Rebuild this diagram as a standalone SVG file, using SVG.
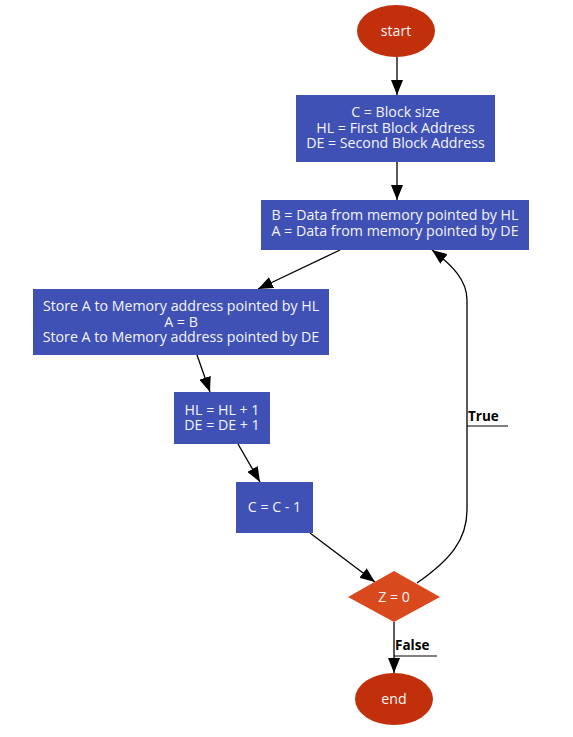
<svg xmlns="http://www.w3.org/2000/svg" width="573" height="737" viewBox="0 0 573 737">
<style>
.box{fill:#3f51b5;}
.term{fill:#c1300a;}
.dec{fill:#d84a1e;}
.t{font-family:"Open Sans",sans-serif;font-size:14.2px;fill:#f4f4f8;text-anchor:middle;}
.e{fill:none;stroke:#000;stroke-width:1.3;}
.lbl{font-family:"Open Sans",sans-serif;font-size:13.5px;font-weight:bold;fill:#000;}
.ul{stroke:#000;stroke-width:1;}
</style>
<defs>
<marker id="ah" viewBox="0 0 15 12" refX="15" refY="6" markerWidth="15" markerHeight="12" markerUnits="userSpaceOnUse" orient="auto">
<path d="M0,0 L15,6 L0,12 z" fill="#000"/>
</marker>
</defs>
<rect width="573" height="737" fill="#fff"/>
<g id="edges">
<path class="e" d="M397,57 L397,95" marker-end="url(#ah)"/>
<path class="e" d="M397,162 L397,200" marker-end="url(#ah)"/>
<path class="e" d="M340,250 L258,289" marker-end="url(#ah)"/>
<path class="e" d="M197,355 L210,392" marker-end="url(#ah)"/>
<path class="e" d="M238,444 L260,482" marker-end="url(#ah)"/>
<path class="e" d="M310,533 L375,582" marker-end="url(#ah)"/>
<path class="e" d="M417,583 C450,560 467,540 467,510 L467,300 C467,280 452,265 432,250" marker-end="url(#ah)"/>
<path class="e" d="M394,622 L394,673" marker-end="url(#ah)"/>
<text class="lbl" x="468" y="421">True</text>
<line class="ul" x1="467" y1="426" x2="508" y2="426"/>
<text class="lbl" x="395" y="650">False</text>
<line class="ul" x1="394" y1="656" x2="437" y2="656"/>
</g>
<g id="start">
<ellipse class="term" cx="396" cy="31" rx="39" ry="26"/>
<text class="t" x="396" y="36">start</text>
</g>
<g id="init">
<rect class="box" x="296" y="95" width="199" height="67"/>
<text class="t"><tspan x="395.5" y="117">C = Block size</tspan><tspan x="395.5" y="132.5">HL = First Block Address</tspan><tspan x="395.5" y="148">DE = Second Block Address</tspan></text>
</g>
<g id="load">
<rect class="box" x="261" y="200" width="268" height="50"/>
<text class="t"><tspan x="395" y="220">B = Data from memory pointed by HL</tspan><tspan x="395" y="236">A = Data from memory pointed by DE</tspan></text>
</g>
<g id="store">
<rect class="box" x="33" y="289" width="296" height="66"/>
<text class="t"><tspan x="181" y="311">Store A to Memory address pointed by HL</tspan><tspan x="181" y="326.5">A = B</tspan><tspan x="181" y="342">Store A to Memory address pointed by DE</tspan></text>
</g>
<g id="inc">
<rect class="box" x="174" y="392" width="96" height="52"/>
<text class="t"><tspan x="222" y="415">HL = HL + 1</tspan><tspan x="222" y="430">DE = DE + 1</tspan></text>
</g>
<g id="dec">
<rect class="box" x="236" y="482" width="77" height="51"/>
<text class="t" x="274.5" y="512">C = C - 1</text>
</g>
<g id="cond">
<polygon class="dec" points="394,571 440,597 394,622 348,597"/>
<text class="t" x="394" y="602">Z = 0</text>
</g>
<g id="end">
<ellipse class="term" cx="394" cy="699" rx="39" ry="26"/>
<text class="t" x="394" y="704">end</text>
</g>
</svg>
